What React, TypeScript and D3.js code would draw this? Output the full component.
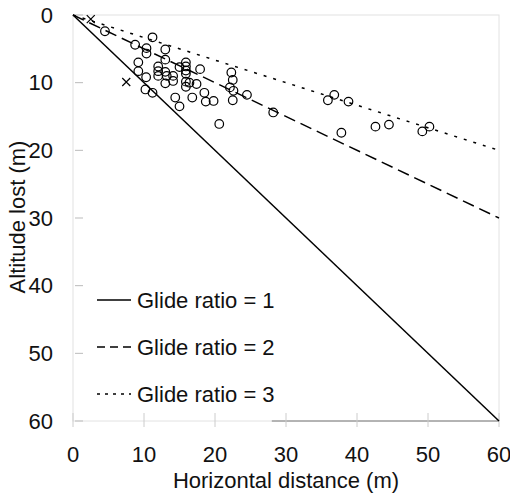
import * as React from 'react';
import { scaleLinear, line } from 'd3';

// horizontal distance (m) and altitude lost (m) for each glide (circles)
const glideDist = [
  4.5, 11.2, 8.75, 10.35, 10.35, 13.0, 13.0, 9.2, 15.9, 12.0, 15.0, 17.9, 9.2, 12.0,
  15.9, 13.0, 12.0, 13.2, 14.1, 10.3, 15.9, 13.0, 14.1, 15.9, 16.4, 15.9, 17.4, 10.2,
  11.2, 18.5, 14.4, 16.8, 18.7, 19.8, 15.0, 20.6, 22.3, 22.5, 22.1, 22.6, 22.5, 24.5,
  28.2, 35.9, 36.8, 38.8, 37.8, 42.6, 44.5, 49.2, 50.2, 15.9,
];
const glideAlt = [
  2.4, 3.3, 4.4, 4.9, 5.7, 5.1, 6.6, 7.0, 7.0, 7.6, 7.7, 8.0, 8.3, 8.3,
  8.2, 8.4, 9.0, 9.0, 9.0, 9.2, 8.7, 10.1, 9.75, 9.85, 10.0, 10.6, 10.2, 11.0,
  11.5, 11.5, 12.2, 12.2, 12.8, 12.7, 13.5, 16.1, 8.5, 9.6, 10.7, 11.2, 12.6, 11.8,
  14.4, 12.6, 11.8, 12.8, 17.4, 16.5, 16.2, 17.2, 16.5, 7.6,
];
// crosses
const crossDist = [2.5, 7.5];
const crossAlt = [0.6, 9.9];

const ratios = [1, 2, 3];
const ratioDash = ['none', '12,6', '3,7'];
const legendDash = ['none', '8,5', '3,5'];
const ticks = [0, 10, 20, 30, 40, 50, 60];

const FONT = '"Liberation Sans", Arial, sans-serif';

export default function App() {
  const x = scaleLinear().domain([0, 60]).range([73, 499]);
  const y = scaleLinear().domain([0, 60]).range([15, 421]);
  const ln = line<[number, number]>()
    .x((d) => x(d[0]))
    .y((d) => y(d[1]));

  return (
    <svg width={510} height={496} style={{ position: 'absolute', left: 0, top: 0, background: '#fff' }}>
      <g fontFamily={FONT} fontSize={22} fill="#111">
        {/* frame, mostly faded in the scan */}
        <rect x={x(0)} y={y(0)} width={x(60) - x(0)} height={y(60) - y(0)} fill="none" stroke="#e2e2e2" />
        <line x1={x(28)} x2={x(60)} y1={y(60)} y2={y(60)} stroke="#777" />
        {ticks.map((t) => (
          <g key={t}>
            <line x1={x(0) + 2} x2={x(0) + 10} y1={y(t)} y2={y(t)} stroke="#bbb" />
            <line x1={x(t)} x2={x(t)} y1={y(60) - 8} y2={y(60) + 6} stroke="#ccc" />
            <text x={53} y={y(t)} dy="0.35em" textAnchor="end">{t}</text>
            <text x={x(t)} y={454} dy="0.35em" textAnchor="middle">{t}</text>
          </g>
        ))}
        <text x={286} y={488} textAnchor="middle">Horizontal distance (m)</text>
        <text transform="translate(25,217) rotate(-90)" textAnchor="middle">Altitude lost (m)</text>

        {/* glide ratio lines */}
        {ratios.map((r, i) => (
          <path key={r} d={ln([[0, 0], [60, 60 / r]]) || ''} fill="none" stroke="#000"
            strokeWidth={1.5} strokeDasharray={ratioDash[i]} />
        ))}

        {/* observations */}
        {glideDist.map((d, i) => (
          <circle key={i} cx={x(d)} cy={y(glideAlt[i])} r={4.3} fill="none" stroke="#000" strokeWidth={1.2} />
        ))}
        {crossDist.map((d, i) => (
          <path key={i} d={`M${x(d) - 4},${y(crossAlt[i]) - 4}L${x(d) + 4},${y(crossAlt[i]) + 4}M${x(d) - 4},${y(crossAlt[i]) + 4}L${x(d) + 4},${y(crossAlt[i]) - 4}`}
            stroke="#000" strokeWidth={1.2} />
        ))}

        {/* legend */}
        {ratios.map((r, i) => (
          <g key={r} transform={`translate(97,${300 + i * 47})`}>
            <line x1={0} x2={34} y1={0} y2={0} stroke="#000" strokeWidth={1.5} strokeDasharray={legendDash[i]} />
            <text x={40} y={0} dy="0.35em">{`Glide ratio = ${r}`}</text>
          </g>
        ))}
      </g>
    </svg>
  );
}
